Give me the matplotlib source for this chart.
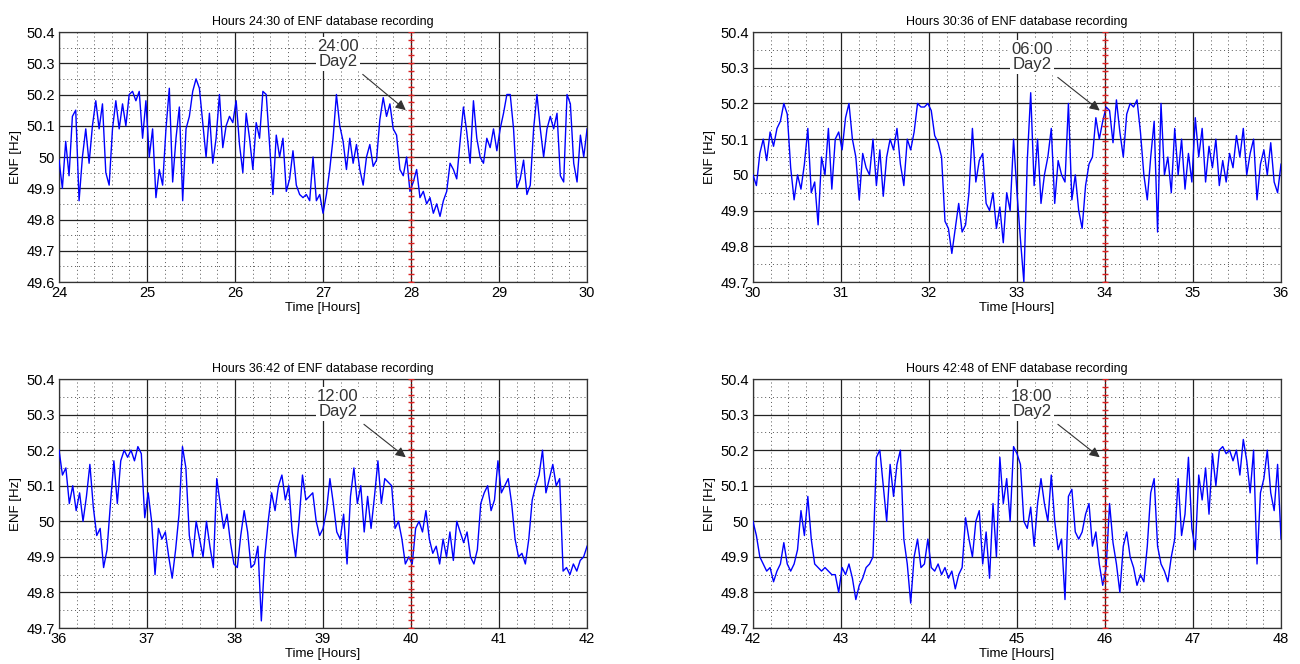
import numpy as np
import matplotlib
matplotlib.use("Agg")
from matplotlib import pyplot as plt
from matplotlib.ticker import MultipleLocator, FormatStrFormatter

plt.rcParams['font.family'] = ['Liberation Sans', 'DejaVu Sans']

# ENF values (Hz), evenly spaced over each 6 hour window
enf_24_30 = [49.99, 49.90, 50.05, 49.94, 50.13, 50.15, 49.86, 50.00, 50.09, 49.98,
             50.10, 50.18, 50.09, 50.17, 49.95, 49.91, 50.09, 50.18, 50.09, 50.17,
             50.10, 50.20, 50.21, 50.18, 50.21, 50.06, 50.18, 50.00, 50.09, 49.87,
             49.96, 49.91, 50.09, 50.22, 49.92, 50.06, 50.16, 49.86, 50.09, 50.13,
             50.21, 50.25, 50.22, 50.11, 50.00, 50.14, 49.98, 50.06, 50.20, 50.03,
             50.10, 50.13, 50.11, 50.18, 50.04, 49.95, 50.14, 50.06, 49.96, 50.11,
             50.06, 50.21, 50.20, 50.04, 49.88, 50.07, 50.00, 50.06, 49.89, 49.93,
             50.02, 49.91, 49.88, 49.87, 49.88, 49.86, 50.00, 49.86, 49.88, 49.82,
             49.88, 49.96, 50.06, 50.20, 50.10, 50.05, 49.96, 50.06, 49.98, 50.04,
             49.96, 49.91, 50.00, 50.04, 49.97, 49.99, 50.12, 50.19, 50.13, 50.17,
             50.09, 50.07, 49.96, 49.94, 50.00, 49.89, 49.92, 49.96, 49.87, 49.89,
             49.85, 49.87, 49.82, 49.85, 49.81, 49.86, 49.89, 49.98, 49.96, 49.93,
             50.05, 50.16, 50.08, 49.98, 50.18, 50.06, 50.00, 49.98, 50.06, 50.03,
             50.09, 50.02, 50.09, 50.14, 50.20, 50.20, 50.09, 49.90, 49.93, 49.99,
             49.88, 49.91, 50.09, 50.20, 50.09, 50.00, 50.09, 50.13, 50.09, 50.14,
             49.94, 49.92, 50.20, 50.17, 49.98, 49.92, 50.07, 50.00, 50.09]

enf_30_36 = [50.00, 49.97, 50.06, 50.10, 50.04, 50.12, 50.08, 50.13, 50.15, 50.20,
             50.17, 50.02, 49.93, 50.00, 49.96, 50.03, 50.13, 49.95, 49.98, 49.86,
             50.05, 50.00, 50.13, 49.96, 50.10, 50.12, 50.07, 50.16, 50.20, 50.10,
             50.05, 49.93, 50.06, 50.02, 50.00, 50.10, 49.97, 50.07, 49.94, 50.05,
             50.10, 50.07, 50.13, 50.03, 49.97, 50.10, 50.07, 50.12, 50.20, 50.19,
             50.19, 50.20, 50.18, 50.11, 50.09, 50.05, 49.87, 49.85, 49.78, 49.85,
             49.92, 49.84, 49.86, 49.95, 50.13, 49.98, 50.04, 50.06, 49.92, 49.90,
             49.95, 49.85, 49.91, 49.81, 49.95, 49.90, 50.10, 49.95, 49.82, 49.70,
             50.04, 50.23, 49.97, 50.10, 49.92, 50.00, 50.05, 50.13, 49.92, 50.04,
             50.00, 49.98, 50.20, 49.93, 50.00, 49.90, 49.85, 49.97, 50.03, 50.05,
             50.16, 50.10, 50.15, 50.19, 50.18, 50.09, 50.21, 50.12, 50.05, 50.17,
             50.20, 50.19, 50.21, 50.12, 50.00, 49.93, 50.05, 50.15, 49.84, 50.20,
             50.00, 50.05, 49.95, 50.13, 50.00, 50.10, 49.96, 50.06, 49.98, 50.16,
             50.05, 50.13, 49.98, 50.08, 50.02, 50.10, 49.97, 50.04, 49.98, 50.06,
             50.02, 50.11, 50.05, 50.13, 50.00, 50.06, 50.10, 49.93, 50.03, 50.07,
             50.00, 50.09, 49.98, 49.95, 50.03]

enf_36_42 = [50.20, 50.13, 50.15, 50.05, 50.10, 50.03, 50.08, 50.00, 50.07, 50.16,
             50.04, 49.96, 49.98, 49.87, 49.92, 50.05, 50.17, 50.05, 50.17, 50.20,
             50.18, 50.20, 50.17, 50.21, 50.19, 50.01, 50.08, 50.00, 49.85, 49.98,
             49.95, 49.97, 49.90, 49.84, 49.92, 50.02, 50.21, 50.15, 49.96, 49.90,
             50.00, 49.95, 49.90, 50.00, 49.93, 49.87, 50.12, 50.05, 49.98, 50.02,
             49.94, 49.88, 49.87, 49.96, 50.03, 49.97, 49.87, 49.88, 49.93, 49.72,
             49.90, 50.00, 50.08, 50.03, 50.10, 50.13, 50.06, 50.10, 49.97, 49.90,
             50.00, 50.13, 50.06, 50.07, 50.08, 50.00, 49.96, 49.98, 50.03, 50.12,
             50.05, 49.97, 49.95, 50.02, 49.88, 50.07, 50.15, 50.05, 50.10, 49.97,
             50.07, 49.98, 50.07, 50.17, 50.05, 50.12, 50.11, 50.10, 49.98, 50.00,
             49.95, 49.88, 49.90, 49.88, 49.98, 50.00, 49.97, 50.03, 49.95, 49.91,
             49.93, 49.88, 49.95, 49.90, 49.97, 49.89, 50.00, 49.97, 49.94, 49.97,
             49.90, 49.88, 49.92, 50.05, 50.08, 50.10, 50.03, 50.06, 50.17, 50.08,
             50.10, 50.12, 50.05, 49.95, 49.90, 49.91, 49.88, 49.95, 50.06, 50.10,
             50.13, 50.20, 50.08, 50.12, 50.16, 50.10, 50.12, 49.86, 49.87, 49.85,
             49.88, 49.86, 49.89, 49.90, 49.93]

enf_42_48 = [50.00, 49.96, 49.90, 49.88, 49.86, 49.87, 49.83, 49.86, 49.88, 49.94,
             49.88, 49.86, 49.88, 49.92, 50.03, 49.96, 50.07, 49.95, 49.88, 49.87,
             49.86, 49.87, 49.86, 49.85, 49.85, 49.80, 49.87, 49.85, 49.88, 49.84,
             49.78, 49.82, 49.84, 49.87, 49.88, 49.90, 50.18, 50.20, 50.10, 50.00,
             50.16, 50.07, 50.16, 50.20, 49.95, 49.88, 49.77, 49.90, 49.95, 49.87,
             49.88, 49.95, 49.87, 49.86, 49.88, 49.85, 49.87, 49.84, 49.86, 49.81,
             49.85, 49.87, 50.01, 49.95, 49.90, 50.00, 50.03, 49.88, 49.97, 49.84,
             50.05, 49.90, 50.18, 50.05, 50.12, 50.00, 50.21, 50.19, 50.16, 50.00,
             49.98, 50.04, 49.93, 50.05, 50.12, 50.05, 50.00, 50.13, 50.00, 49.92,
             49.95, 49.78, 50.07, 50.09, 49.97, 49.95, 49.97, 50.02, 50.05, 49.93,
             49.97, 49.88, 49.82, 49.87, 50.05, 49.94, 49.88, 49.80, 49.93, 49.97,
             49.90, 49.87, 49.82, 49.85, 49.83, 49.93, 50.08, 50.12, 49.93, 49.88,
             49.86, 49.83, 49.90, 49.95, 50.12, 49.96, 50.02, 50.18, 49.98, 49.92,
             50.13, 50.06, 50.15, 50.02, 50.19, 50.10, 50.20, 50.21, 50.19, 50.20,
             50.17, 50.20, 50.13, 50.23, 50.17, 50.08, 50.20, 49.88, 50.08, 50.12,
             50.20, 50.08, 50.03, 50.16, 49.95]

start_hours = [24, 30, 36, 42]
y_bottoms = [49.6, 49.7, 49.7, 49.7]
series = [enf_24_30, enf_30_36, enf_36_42, enf_42_48]
day2_hours = [28, 34, 40, 46]
day2_labels = ["24:00\nDay2", "06:00\nDay2", "12:00\nDay2", "18:00\nDay2"]

positions = [[0.0454, 0.5753, 0.4062, 0.3765],
             [0.5792, 0.5753, 0.4062, 0.3765],
             [0.0454, 0.0542, 0.4062, 0.3750],
             [0.5792, 0.0542, 0.4062, 0.3750]]

fig = plt.figure(figsize=(13, 6.64), dpi=100)

for i in range(4):
    h0 = start_hours[i]
    ylo = y_bottoms[i]
    y = np.array(series[i])
    t = np.linspace(h0, h0 + 6, len(y))

    ax = fig.add_axes(positions[i])
    ax.plot(t, y, color='#0000ff', lw=1.0, zorder=3)

    ax.set_xlim(h0, h0 + 6)
    ax.set_ylim(ylo, 50.4)
    ax.xaxis.set_major_locator(MultipleLocator(1))
    ax.xaxis.set_minor_locator(MultipleLocator(0.2))
    ax.yaxis.set_major_locator(MultipleLocator(0.1))
    ax.yaxis.set_minor_locator(MultipleLocator(0.05))
    ax.yaxis.set_major_formatter(FormatStrFormatter('%g'))
    ax.xaxis.set_major_formatter(FormatStrFormatter('%g'))
    ax.grid(which='major', color='#222222', lw=0.9, ls='-', zorder=1)
    ax.grid(which='minor', color='#555555', lw=0.7, ls=(0, (1, 3)), zorder=1)
    ax.set_axisbelow(True)
    ax.tick_params(which='both', direction='in', length=0, labelsize=10.5, pad=3)
    for s in ax.spines.values():
        s.set_color('#333333')
        s.set_linewidth(0.9)

    # day boundary marker
    hd = day2_hours[i]
    ax.axvline(hd, color='#cc0000', lw=1.0, ls=':', zorder=4)
    ax.plot([hd] * 33, np.linspace(ylo, 50.4, 33), ls='none', marker='_',
            ms=5, mew=1.0, color='#dd2222', zorder=4)

    ax.annotate(day2_labels[i], xy=(hd - 0.06, 50.18 if i else 50.15),
                xytext=(hd - 0.83, 50.33), ha='center', va='center',
                fontsize=12, color='#333333', linespacing=1.05,
                bbox=dict(boxstyle='square,pad=0.1', fc='white', ec='none'),
                arrowprops=dict(arrowstyle='-|>', color='#333333', lw=0.8,
                                mutation_scale=15, shrinkA=4, shrinkB=0),
                zorder=5)

    ax.set_title(f"Hours {h0}:{h0 + 6} of ENF database recording",
                 fontsize=9, pad=5)
    ax.set_xlabel("Time [Hours]", fontsize=9.5, labelpad=1)
    ax.set_ylabel("ENF [Hz]", fontsize=9.5, labelpad=3)

plt.savefig("out.png", dpi=100)
